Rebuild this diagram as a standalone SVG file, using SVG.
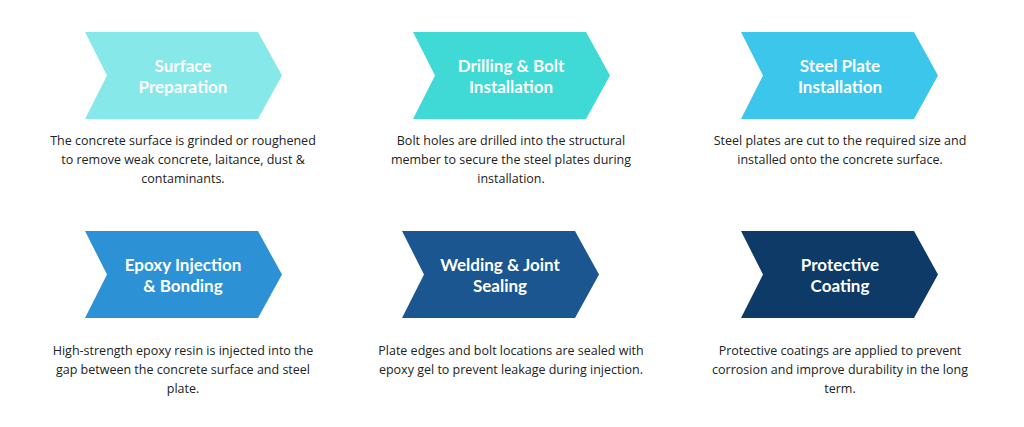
<svg xmlns="http://www.w3.org/2000/svg" width="1024" height="427" viewBox="0 0 1024 427">
<style>
.t{font-family:Lato,"Liberation Sans",sans-serif;font-weight:bold;font-size:17px;fill:#fff;text-anchor:middle}
.d{font-family:"Open Sans","Liberation Sans",sans-serif;font-size:12.5px;fill:#222;text-anchor:middle}
</style>
<defs><path id="ch" d="M0,0 H173 L197,43.5 L173,87 H0 L22,43.5 Z"/></defs>
<rect width="1024" height="427" fill="#fff"/>
<g id="n1"><use href="#ch" x="85" y="32" fill="#86E8E8"/><text class="t" x="183" y="72">Surface</text><text class="t" x="183" y="93">Preparation</text>
<text class="d" x="183" y="145">The concrete surface is grinded or roughened</text><text class="d" x="183" y="164">to remove weak concrete, laitance, dust &amp;</text><text class="d" x="183" y="183">contaminants.</text></g>
<g id="n2"><use href="#ch" x="413" y="32" fill="#3FD9D6"/><text class="t" x="511" y="72">Drilling &amp; Bolt</text><text class="t" x="511" y="93">Installation</text>
<text class="d" x="511" y="145">Bolt holes are drilled into the structural</text><text class="d" x="511" y="164">member to secure the steel plates during</text><text class="d" x="511" y="183">installation.</text></g>
<g id="n3"><use href="#ch" x="741" y="32" fill="#3CC6EC"/><text class="t" x="840" y="72">Steel Plate</text><text class="t" x="840" y="93">Installation</text>
<text class="d" x="840" y="145">Steel plates are cut to the required size and</text><text class="d" x="840" y="164">installed onto the concrete surface.</text></g>
<g id="n4"><use href="#ch" x="85" y="231" fill="#2D91D6"/><text class="t" x="183" y="271">Epoxy Injection</text><text class="t" x="183" y="292">&amp; Bonding</text>
<text class="d" x="183" y="355">High-strength epoxy resin is injected into the</text><text class="d" x="183" y="374">gap between the concrete surface and steel</text><text class="d" x="183" y="393">plate.</text></g>
<g id="n5"><use href="#ch" x="402" y="231" fill="#1B5690"/><text class="t" x="500" y="271">Welding &amp; Joint</text><text class="t" x="500" y="292">Sealing</text>
<text class="d" x="511" y="355">Plate edges and bolt locations are sealed with</text><text class="d" x="511" y="374">epoxy gel to prevent leakage during injection.</text></g>
<g id="n6"><use href="#ch" x="741" y="231" fill="#0D3A66"/><text class="t" x="840" y="271">Protective</text><text class="t" x="840" y="292">Coating</text>
<text class="d" x="840" y="355">Protective coatings are applied to prevent</text><text class="d" x="840" y="374">corrosion and improve durability in the long</text><text class="d" x="840" y="393">term.</text></g>
<g id="connectors"/>
</svg>
